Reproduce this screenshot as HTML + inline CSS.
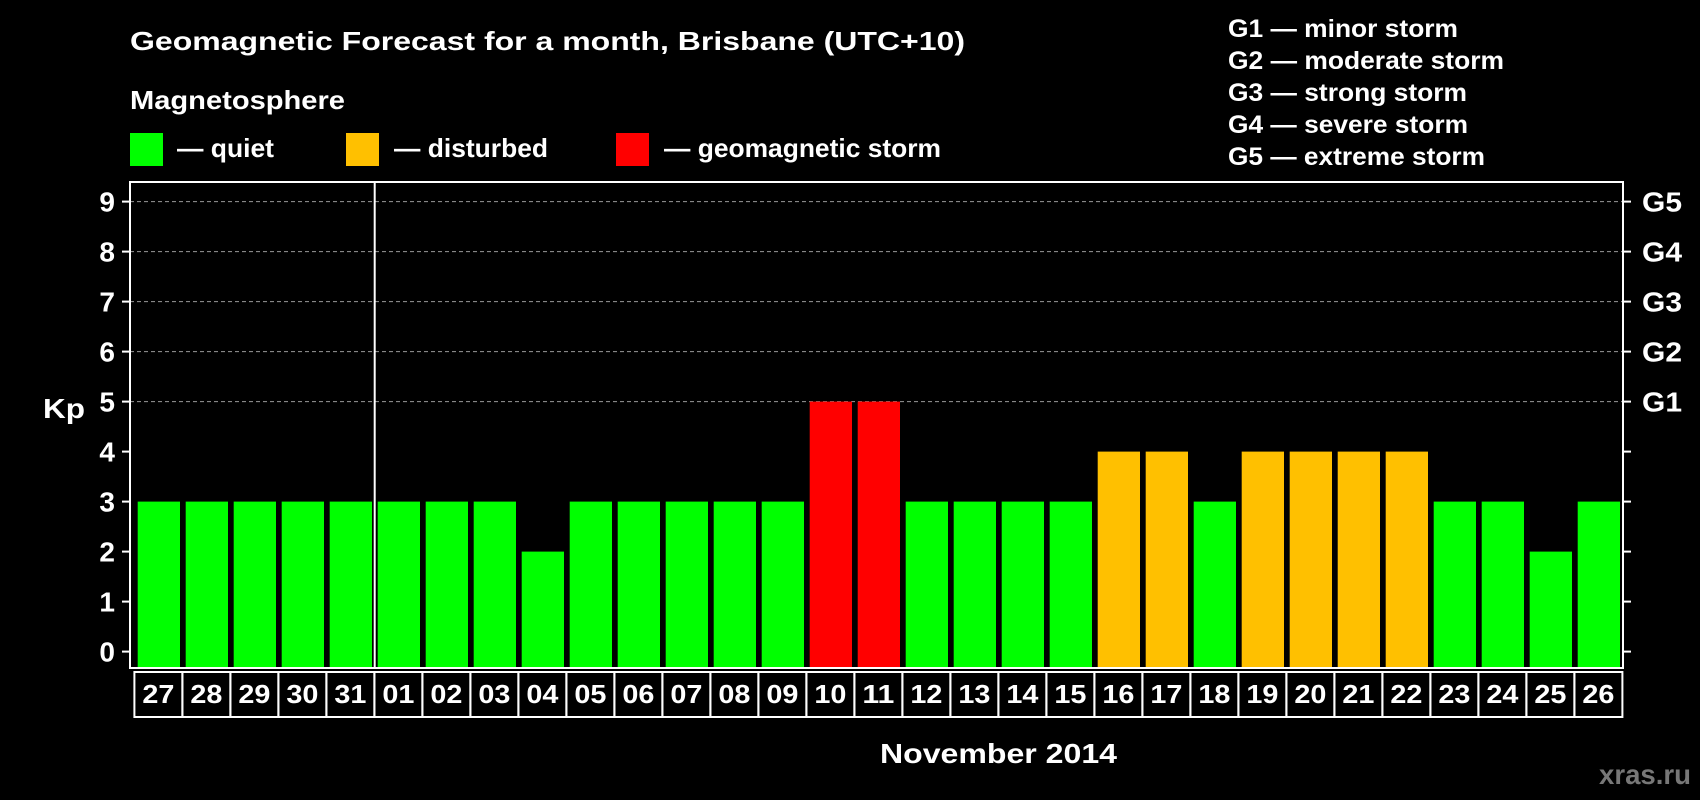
<!DOCTYPE html>
<html><head><meta charset="utf-8"><style>
html,body{margin:0;padding:0;background:#000;}
svg{display:block;font-family:"Liberation Sans",Arial,sans-serif;font-weight:bold;}
</style></head><body>
<svg id="chart" width="1700" height="800" xmlns="http://www.w3.org/2000/svg">
<rect width="1700" height="800" fill="#000"/>
<text x="130" y="50" fill="#fff" font-size="26" textLength="835" lengthAdjust="spacingAndGlyphs">Geomagnetic Forecast for a month, Brisbane (UTC+10)</text>
<text x="130" y="109" fill="#fff" font-size="26" textLength="215" lengthAdjust="spacingAndGlyphs">Magnetosphere</text>
<g><rect x="130" y="133" width="33" height="33" fill="#00ff00"/><text x="177" y="157" fill="#fff" font-size="26" textLength="97" lengthAdjust="spacingAndGlyphs">— quiet</text></g>
<g><rect x="346" y="133" width="33" height="33" fill="#ffc000"/><text x="394" y="157" fill="#fff" font-size="26" textLength="154" lengthAdjust="spacingAndGlyphs">— disturbed</text></g>
<g><rect x="616" y="133" width="33" height="33" fill="#ff0000"/><text x="664" y="157" fill="#fff" font-size="26" textLength="277" lengthAdjust="spacingAndGlyphs">— geomagnetic storm</text></g>
<g fill="#fff" font-size="25">
<text x="1228" y="37" textLength="230" lengthAdjust="spacingAndGlyphs">G1 — minor storm</text>
<text x="1228" y="69" textLength="276" lengthAdjust="spacingAndGlyphs">G2 — moderate storm</text>
<text x="1228" y="101" textLength="239" lengthAdjust="spacingAndGlyphs">G3 — strong storm</text>
<text x="1228" y="133" textLength="240" lengthAdjust="spacingAndGlyphs">G4 — severe storm</text>
<text x="1228" y="165" textLength="257" lengthAdjust="spacingAndGlyphs">G5 — extreme storm</text>
</g>
<text x="43" y="418" fill="#fff" font-size="28" textLength="42" lengthAdjust="spacingAndGlyphs">Kp</text>
<text x="880" y="763" fill="#fff" font-size="28" textLength="237" lengthAdjust="spacingAndGlyphs">November 2014</text>
<text x="1599" y="784" fill="#777" font-size="28" textLength="92" lengthAdjust="spacingAndGlyphs">xras.ru</text>
<g id="plot"></g>
</svg>
<script>
const days = ["27","28","29","30","31","01","02","03","04","05","06","07","08","09","10","11","12","13","14","15","16","17","18","19","20","21","22","23","24","25","26"];
const kp = [3,3,3,3,3,3,3,3,2,3,3,3,3,3,5,5,3,3,3,3,4,4,3,4,4,4,4,3,3,2,3];
const yTicks = [0,1,2,3,4,5,6,7,8,9];
const gLabels = ["G1","G2","G3","G4","G5"];
const gLevels = [5,6,7,8,9];
const monthSplitIndex = 5;

const NS = "http://www.w3.org/2000/svg";
const g = document.getElementById('plot');
const L = 130, R = 1623, T = 182, B = 668;
const y0 = 651.6, unit = 50.0;
const yS = v => y0 - v * unit;
const step = 48.0;
const xS = i => 137.7 + i * step;
const bw = 42.3;
function mk(tag, attrs) { const e = document.createElementNS(NS, tag); for (const k in attrs) e.setAttribute(k, attrs[k]); g.appendChild(e); return e; }

yTicks.forEach(v => {
  if (v >= 5) {
    const l = mk('line', {x1: L, x2: R, y1: yS(v), y2: yS(v), stroke: '#999', 'stroke-width': 1, 'stroke-dasharray': '4,3'});
    
    
  }
  mk('line', {x1: L - 8, x2: L, y1: yS(v), y2: yS(v), stroke: '#fff', 'stroke-width': 2});
  mk('line', {x1: R, x2: R + 8, y1: yS(v), y2: yS(v), stroke: '#fff', 'stroke-width': 2});
  const t = mk('text', {x: 115, y: yS(v) + 10, fill: '#fff', 'font-size': 28, 'text-anchor': 'end'});
  t.textContent = v;
  
  
});
gLabels.forEach((lab, i) => {
  const t = mk('text', {x: 1642, y: yS(gLevels[i]) + 10, fill: '#fff', 'font-size': 28, textLength: 40, lengthAdjust: 'spacingAndGlyphs'});
  t.textContent = lab;
  
  
});
kp.forEach((v, i) => {
  const c = v >= 5 ? '#ff0000' : (v >= 4 ? '#ffc000' : '#00ff00');
  const r = mk('rect', {x: xS(i), y: yS(v), width: bw, height: B - yS(v), fill: c});
  
  
  const bx = 134.4 + i * step;
  const box = mk('rect', {x: bx, y: 672, width: step, height: 45, fill: 'none', stroke: '#fff', 'stroke-width': 2});
  
  
  const t = mk('text', {x: bx + step / 2, y: 703, fill: '#fff', 'font-size': 26, 'text-anchor': 'middle', textLength: 32, lengthAdjust: 'spacingAndGlyphs'});
  t.textContent = days[i];
  
  
});
const sx = xS(monthSplitIndex) - 3;
const sep = mk('line', {x1: sx, x2: sx, y1: T, y2: B, stroke: '#fff', 'stroke-width': 2});


const frame = mk('rect', {x: L, y: T, width: R - L, height: B - T, fill: 'none', stroke: '#fff', 'stroke-width': 2});


</script>
</body></html>
